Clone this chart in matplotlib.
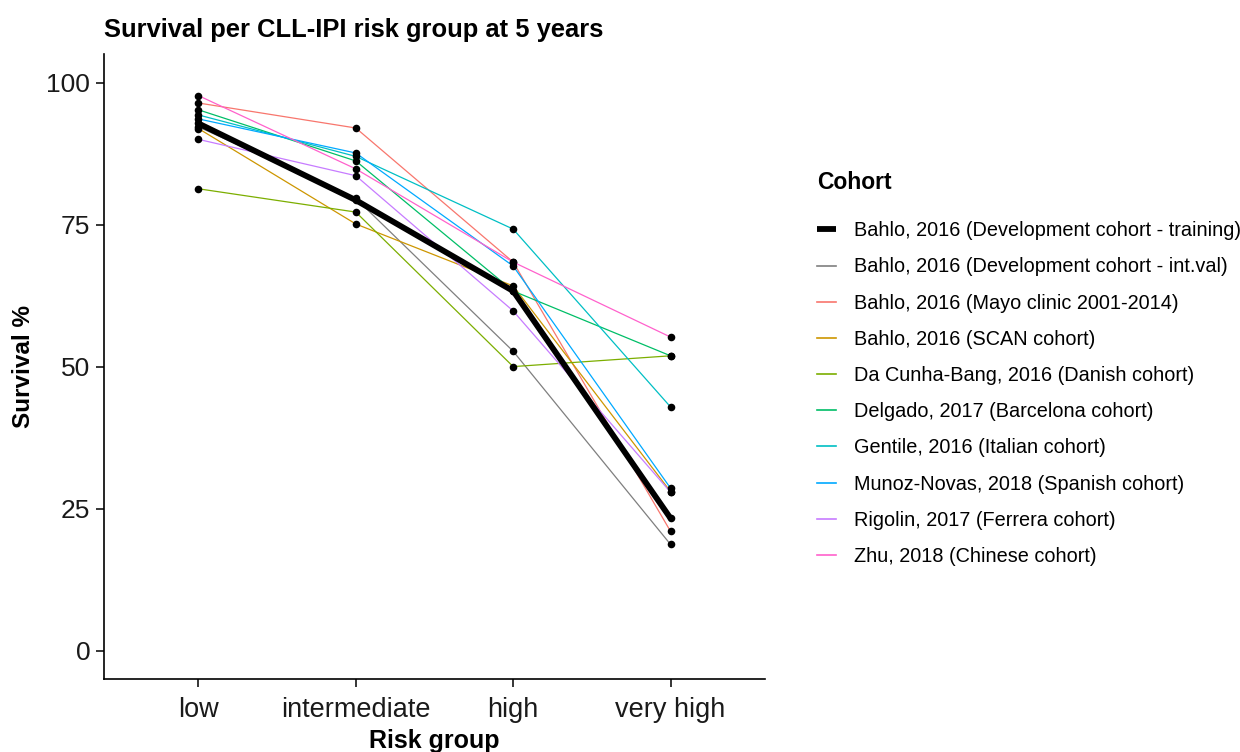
#!/usr/bin/env python3

import matplotlib
matplotlib.use("Agg")
import matplotlib.pyplot as plt
from matplotlib.lines import Line2D

plt.rcParams['font.family'] = ['Liberation Sans', 'DejaVu Sans']

risk_groups = ["low", "intermediate", "high", "very high"]

cohorts = [
    "Bahlo, 2016 (Development cohort - training)",
    "Bahlo, 2016 (Development cohort - int.val)",
    "Bahlo, 2016 (Mayo clinic 2001-2014)",
    "Bahlo, 2016 (SCAN cohort)",
    "Da Cunha-Bang, 2016 (Danish cohort)",
    "Delgado, 2017 (Barcelona cohort)",
    "Gentile, 2016 (Italian cohort)",
    "Munoz-Novas, 2018 (Spanish cohort)",
    "Rigolin, 2017 (Ferrera cohort)",
    "Zhu, 2018 (Chinese cohort)",
]

training = [92.8, 79.3, 63.3, 23.3]
int_val = [92.2, 79.6, 52.7, 18.7]
mayo = [96.4, 92.0, 68.4, 21.0]
scan = [91.9, 75.1, 64.2, 28.0]
danish = [81.3, 77.2, 50.0, 51.9]
barcelona = [95.2, 86.2, 63.3, 51.9]
italian = [94.3, 87.0, 74.2, 42.9]
spanish = [93.6, 87.6, 67.7, 28.6]
ferrera = [90.0, 83.6, 59.8, 27.9]
chinese = [97.7, 84.8, 68.4, 55.2]

series = [training, int_val, mayo, scan, danish, barcelona, italian,
          spanish, ferrera, chinese]
colors = ["black", "#7F7F7F", "#F8766D", "#CD9600", "#7CAE00", "#00BE67",
          "#00BFC4", "#00A9FF", "#C77CFF", "#FF61CC"]


def main():
    fig = plt.figure(figsize=(12.4, 7.52), dpi=100)
    ax = fig.add_axes([0.0839, 0.097, 0.533, 0.831])
    x = list(range(1, len(risk_groups) + 1))

    handles = []
    # thin lines first, thick training line drawn on top
    for vals, col, name in list(zip(series, colors, cohorts))[1:]:
        ax.plot(x, vals, color=col, lw=0.9, zorder=2)
        handles.append(Line2D([], [], color=col, lw=1.2, label=name))
    ax.plot(x, training, color="black", lw=4.2, zorder=3,
            solid_capstyle="butt")
    handles.insert(0, Line2D([], [], color="black", lw=4.2,
                             solid_capstyle="butt", label=cohorts[0]))

    for vals in series:
        ax.scatter(x, vals, s=30, color="black", zorder=4, linewidths=0)

    ax.set_xlim(0.4, 4.6)
    ax.set_ylim(-5, 105)
    ax.set_xticks(x)
    ax.set_xticklabels(risk_groups, fontsize=19.5)
    ax.set_yticks([0, 25, 50, 75, 100])
    ax.set_yticklabels(["0", "25", "50", "75", "100"], fontsize=19)
    ax.tick_params(direction="out", length=6, width=1.1, colors="black",
                   labelcolor="#1a1a1a", pad=4)
    ax.tick_params(axis="x", pad=7)
    for s in ["top", "right"]:
        ax.spines[s].set_visible(False)
    for s in ["left", "bottom"]:
        ax.spines[s].set_linewidth(1.2)

    ax.set_xlabel("Risk group", fontsize=18, fontweight="bold", labelpad=4)
    ax.set_ylabel("Survival %", fontsize=17.5, fontweight="bold", labelpad=8)
    ax.set_title("Survival per CLL-IPI risk group at 5 years", fontsize=18.4,
                 fontweight="bold", loc="left", pad=12)

    fig.text(0.659, 0.757, "Cohort", fontsize=16.5, fontweight="bold",
             va="center", ha="left")
    fig.legend(handles=handles, loc="upper left",
               bbox_to_anchor=(0.6445, 0.7295), frameon=False,
               fontsize=14.3, handlelength=0.95,
               handletextpad=0.9, labelspacing=0.865)

    fig.savefig("out.png", dpi=100)


if __name__ == "__main__":
    main()
